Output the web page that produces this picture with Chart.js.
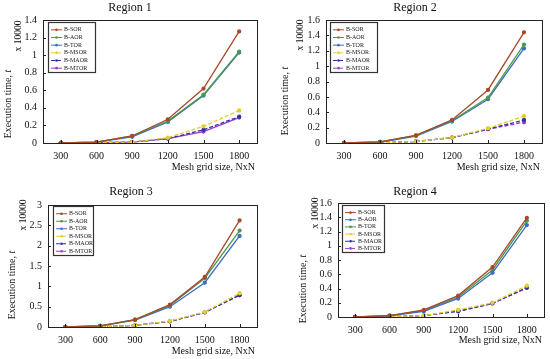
<!DOCTYPE html>
<html>
<head>
<meta charset="utf-8">
<script src="https://cdn.jsdelivr.net/npm/chart.js@4.4.0/dist/chart.umd.min.js"></script>
<style>
  body { margin: 0; background: #fff; }
  .panel { position: absolute; }
</style>
</head>
<body>
<div class="panel" style="left:0;top:0"><canvas id="c1" width="275" height="180"></canvas></div>
<div class="panel" style="left:275px;top:0"><canvas id="c2" width="275" height="180"></canvas></div>
<div class="panel" style="left:0;top:180px"><canvas id="c3" width="275" height="179"></canvas></div>
<div class="panel" style="left:275px;top:180px"><canvas id="c4" width="275" height="179"></canvas></div>
<script>
// Data (execution time, x 10000)
const meshSizes = ['300', '600', '900', '1200', '1500', '1800'];
const methods = ['B-SOR', 'B-AOR', 'B-TOR', 'B-MSOR', 'B-MAOR', 'B-MTOR'];

// rows follow the order of methods
const region1Values = [
  [0, 0.01, 0.08, 0.27, 0.62, 1.27],
  [0, 0.01, 0.08, 0.25, 0.55, 1.04],
  [0, 0.01, 0.07, 0.24, 0.54, 1.03],
  [0, 0.005, 0.01, 0.06, 0.19, 0.37],
  [0, 0.005, 0.01, 0.05, 0.15, 0.30],
  [0, 0.005, 0.01, 0.05, 0.13, 0.29]
];
const region2Values = [
  [0, 0.015, 0.10, 0.30, 0.69, 1.44],
  [0, 0.015, 0.10, 0.29, 0.59, 1.28],
  [0, 0.01, 0.09, 0.28, 0.57, 1.23],
  [0, 0.003, 0.02, 0.07, 0.19, 0.35],
  [0, 0.003, 0.02, 0.07, 0.18, 0.30],
  [0, 0.003, 0.02, 0.07, 0.18, 0.27]
];
const region3Values = [
  [0, 0.03, 0.18, 0.55, 1.23, 2.62],
  [0, 0.03, 0.18, 0.53, 1.20, 2.37],
  [0, 0.03, 0.17, 0.50, 1.09, 2.24],
  [0, 0.005, 0.04, 0.15, 0.37, 0.83],
  [0, 0.005, 0.04, 0.14, 0.36, 0.78],
  [0, 0.005, 0.04, 0.14, 0.36, 0.79]
];
const region4Values = [
  [0, 0.02, 0.10, 0.30, 0.70, 1.39],
  [0, 0.015, 0.08, 0.26, 0.62, 1.29],
  [0, 0.02, 0.09, 0.28, 0.66, 1.35],
  [0, 0.003, 0.02, 0.10, 0.20, 0.44],
  [0, 0.003, 0.02, 0.08, 0.19, 0.41],
  [0, 0.003, 0.02, 0.08, 0.19, 0.41]
];

const SERIF = '"Liberation Serif", "DejaVu Serif", serif';
const brown = '#a9492a', green = '#4a9a48', blue = '#3b6cc6';
const yellow = '#e3cf2c', navy = '#33339e', violet = '#9b3ad6';

// plot box, texts and legend placement per panel (canvas coords)
const panels = [
  { id: 'c1', title: 'Region 1', values: region1Values, yMax: 1.4, yStep: 0.2,
    colors: [brown, green, blue, yellow, navy, violet], dashed: [0, 0, 0, 1, 1, 0],
    box: { l: 43, t: 20, r: 257, b: 143 }, titleXY: [130, 8], xTitleY: 167,
    yTitleXY: [8, 104], unitXY: [18, 36], legend: { x: 48, y: 22, w: 47, h: 50 } },
  { id: 'c2', title: 'Region 2', values: region2Values, yMax: 1.6, yStep: 0.2,
    colors: [brown, green, blue, yellow, navy, violet], dashed: [0, 0, 0, 1, 1, 1],
    box: { l: 51, t: 20, r: 267, b: 143 }, titleXY: [140, 8], xTitleY: 167,
    yTitleXY: [10, 101], unitXY: [25, 35], legend: { x: 55, y: 22, w: 47, h: 50 } },
  { id: 'c3', title: 'Region 3', values: region3Values, yMax: 3, yStep: 0.5,
    colors: [brown, green, blue, yellow, navy, violet], dashed: [0, 0, 0, 1, 1, 1],
    box: { l: 48, t: 25, r: 257, b: 147 }, titleXY: [131, 12], xTitleY: 171,
    yTitleXY: [12, 105], unitXY: [23, 35], legend: { x: 53, y: 26, w: 40, h: 49 } },
  { id: 'c4', title: 'Region 4', values: region4Values, yMax: 1.6, yStep: 0.2,
    colors: [brown, blue, green, yellow, navy, violet], dashed: [0, 0, 0, 1, 1, 1],
    box: { l: 63, t: 23, r: 269, b: 137 }, titleXY: [140, 12], xTitleY: 160,
    yTitleXY: [28, 109], unitXY: [40, 33], legend: { x: 67, y: 25, w: 42, h: 47 } }
];

// frame, inward ticks, texts and inner legend
const decorPlugin = {
  id: 'decor',
  afterDraw(chart, args, opts) {
    const p = opts.panel;
    const ctx = chart.ctx;
    const a = chart.chartArea;
    const xs = chart.scales.x, ys = chart.scales.y;
    ctx.save();
    ctx.strokeStyle = '#222';
    ctx.lineWidth = 1;
    ctx.strokeRect(Math.round(a.left) + 0.5, Math.round(a.top) + 0.5,
      Math.round(a.right - a.left), Math.round(a.bottom - a.top));
    ctx.beginPath();
    ys.ticks.forEach(t => {
      const y = Math.round(ys.getPixelForValue(t.value)) + 0.5;
      ctx.moveTo(a.left, y); ctx.lineTo(a.left + 3, y);
    });
    xs.ticks.forEach((t, i) => {
      const x = Math.round(xs.getPixelForTick(i)) + 0.5;
      ctx.moveTo(x, a.bottom); ctx.lineTo(x, a.bottom - 3);
    });
    ctx.stroke();

    ctx.fillStyle = '#111';
    ctx.textBaseline = 'middle';
    ctx.textAlign = 'center';
    ctx.font = '12px ' + SERIF;
    ctx.fillText(p.title, p.titleXY[0], p.titleXY[1]);
    ctx.font = '10px ' + SERIF;
    ctx.textAlign = 'right';
    ctx.fillText('Mesh grid size, NxN', a.right - 2, p.xTitleY);

    // rotated y texts
    ctx.save();
    ctx.translate(p.yTitleXY[0], p.yTitleXY[1]);
    ctx.rotate(-Math.PI / 2);
    const main = 'Execution time, ';
    ctx.font = 'italic 10px ' + SERIF;
    const tw = ctx.measureText('t').width;
    ctx.font = '10px ' + SERIF;
    const mw = ctx.measureText(main).width;
    ctx.textAlign = 'left';
    ctx.fillText(main, -(mw + tw) / 2, 0);
    ctx.font = 'italic 10px ' + SERIF;
    ctx.fillText('t', -(mw + tw) / 2 + mw, 0);
    ctx.restore();

    ctx.save();
    ctx.translate(p.unitXY[0], p.unitXY[1]);
    ctx.rotate(-Math.PI / 2);
    ctx.textAlign = 'center';
    ctx.font = '9.5px ' + SERIF;
    ctx.fillText('x 10000', 0, 0);
    ctx.restore();

    // legend box inside the plot
    const L = p.legend;
    ctx.fillStyle = '#fff';
    ctx.fillRect(L.x, L.y, L.w, L.h);
    ctx.strokeStyle = '#333';
    ctx.lineWidth = 1.2;
    ctx.strokeRect(L.x + 0.5, L.y + 0.5, L.w, L.h);
    const rowH = (L.h - 4) / 6;
    chart.data.datasets.forEach((ds, i) => {
      const y = L.y + 4 + rowH * (i + 0.5);
      ctx.strokeStyle = ds.borderColor;
      ctx.lineWidth = 1;
      ctx.setLineDash(ds.borderDash || []);
      ctx.beginPath();
      ctx.moveTo(L.x + 3, y); ctx.lineTo(L.x + 14, y);
      ctx.stroke();
      ctx.setLineDash([]);
      ctx.fillStyle = ds.borderColor;
      ctx.beginPath();
      ctx.arc(L.x + 8.5, y, 1.3, 0, Math.PI * 2);
      ctx.fill();
      ctx.fillStyle = '#222';
      ctx.font = '6px ' + SERIF;
      ctx.textAlign = 'left';
      ctx.fillText(ds.label, L.x + 16, y);
    });
    ctx.restore();
  }
};

panels.forEach(p => {
  const canvas = document.getElementById(p.id);
  const W = canvas.width, H = canvas.height;
  new Chart(canvas, {
    type: 'line',
    data: {
      labels: meshSizes,
      datasets: methods.map((name, i) => ({
        label: name,
        data: p.values[i],
        borderColor: p.colors[i],
        backgroundColor: p.colors[i],
        borderWidth: 1.3,
        borderDash: p.dashed[i] ? [4, 2] : [],
        pointRadius: 1.5,
        pointStyle: 'circle',
        tension: 0
      }))
    },
    options: {
      responsive: false,
      animation: false,
      layout: { padding: { left: 0, top: p.box.t, right: W - p.box.r, bottom: 0 } },
      plugins: {
        legend: { display: false },
        tooltip: { enabled: false },
        decor: { panel: p }
      },
      scales: {
        x: {
          offset: true,
          grid: { display: false, drawTicks: false, tickLength: 0 },
          border: { display: false },
          ticks: { color: '#111', font: { family: SERIF, size: 10 }, padding: 7, maxRotation: 0, autoSkip: false },
          afterFit(scale) { scale.height = H - p.box.b; }
        },
        y: {
          min: 0,
          max: p.yMax,
          grid: { display: false, drawTicks: false, tickLength: 0 },
          border: { display: false },
          ticks: {
            stepSize: p.yStep, color: '#111', font: { family: SERIF, size: 10 }, padding: 6, autoSkip: false,
            callback: v => String(+v.toFixed(2))
          },
          afterFit(scale) { scale.width = p.box.l; }
        }
      }
    },
    plugins: [decorPlugin]
  });
});
</script>
</body>
</html>
